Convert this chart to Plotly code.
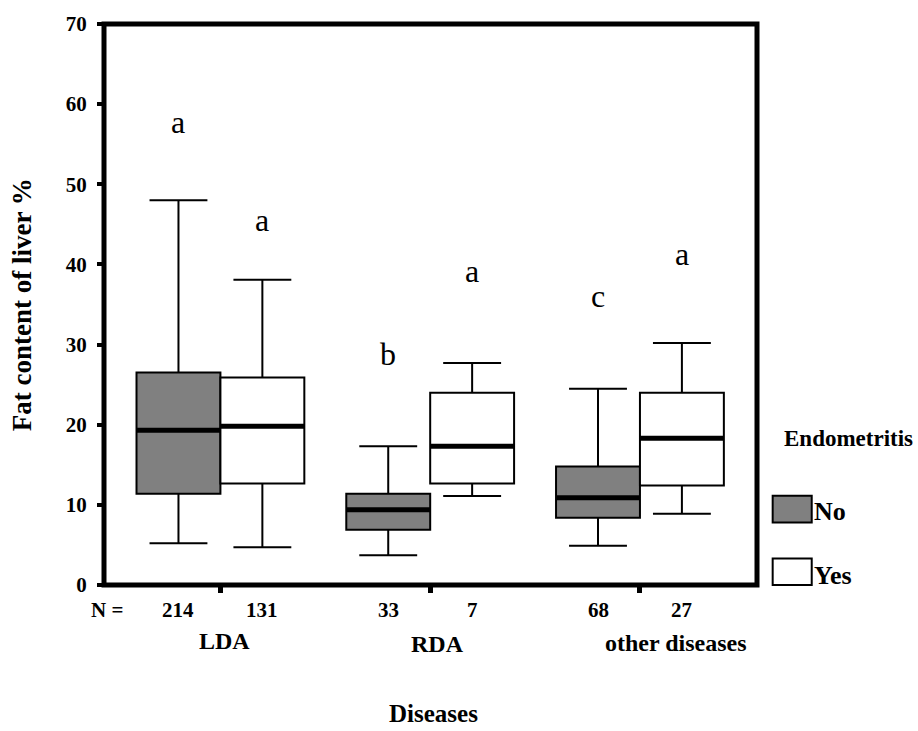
import plotly.graph_objects as go

# Liver fat content by disease group and endometritis status (box summaries)
groups = ["LDA", "RDA", "other diseases"]

no_lower = [5.2, 3.7, 4.9]
no_q1 = [11.4, 6.9, 8.4]
no_median = [19.3, 9.4, 10.9]
no_q3 = [26.5, 11.4, 14.8]
no_upper = [48.0, 17.3, 24.5]

yes_lower = [4.7, 11.1, 8.9]
yes_q1 = [12.65, 12.65, 12.4]
yes_median = [19.8, 17.3, 18.3]
yes_q3 = [25.9, 24.0, 24.0]
yes_upper = [38.1, 27.7, 30.2]

n_no = [214, 33, 68]
n_yes = [131, 7, 27]

letters_no = ["a", "b", "c"]
letters_yes = ["a", "a", "a"]
letter_y_no = [57.8, 28.8, 36.0]
letter_y_yes = [45.6, 39.2, 41.3]

y_ticks = [0, 10, 20, 30, 40, 50, 60, 70]

SERIF = "Liberation Serif, Times New Roman, serif"
BOX_W = 0.4
HALF = BOX_W / 2

idx = list(range(len(groups)))
x_no = [i - HALF for i in idx]
x_yes = [i + HALF for i in idx]

fig = go.Figure()


def add_box(xs, lower, q1, med, q3, upper, fill, name):
    fig.add_trace(go.Box(
        x=xs, q1=q1, median=med, q3=q3,
        lowerfence=lower, upperfence=upper,
        width=BOX_W, whiskerwidth=0.69,
        fillcolor=fill, line=dict(color="black", width=2),
        name=name, showlegend=False, boxpoints=False,
        hoverinfo="skip",
    ))
    # heavy median bar across the full box width
    mx, my = [], []
    for x, m in zip(xs, med):
        mx += [x - HALF, x + HALF, None]
        my += [m, m, None]
    fig.add_trace(go.Scatter(
        x=mx, y=my, mode="lines",
        line=dict(color="black", width=5),
        showlegend=False, hoverinfo="skip",
    ))


add_box(x_no, no_lower, no_q1, no_median, no_q3, no_upper, "#808080", "No")
add_box(x_yes, yes_lower, yes_q1, yes_median, yes_q3, yes_upper, "white", "Yes")

annotations = []

# significance letters above each box
for xs, labs, ys in ((x_no, letters_no, letter_y_no), (x_yes, letters_yes, letter_y_yes)):
    for x, t, y in zip(xs, labs, ys):
        annotations.append(dict(
            x=x, y=y, xref="x", yref="y", text=t, showarrow=False,
            font=dict(family=SERIF, size=32, color="black"),
            xanchor="center", yanchor="middle",
        ))

# sample sizes under each box
N_ROW = -0.0442
annotations.append(dict(
    x=0.0046, y=N_ROW, xref="paper", yref="paper", text="<b>N =</b>",
    showarrow=False, font=dict(family=SERIF, size=21, color="black"),
    xanchor="center", yanchor="middle",
))
for xs, ns in ((x_no, n_no), (x_yes, n_yes)):
    for x, n in zip(xs, ns):
        annotations.append(dict(
            x=x, y=N_ROW, xref="x", yref="paper", text=f"<b>{n}</b>",
            showarrow=False, font=dict(family=SERIF, size=21, color="black"),
            xanchor="center", yanchor="middle",
        ))

# group names
group_label_shift = [0.02, 0.037, 0.172]
group_label_y = [-0.1007, -0.106, -0.1025]
for i, g in enumerate(groups):
    annotations.append(dict(
        x=i + group_label_shift[i], y=group_label_y[i], xref="x", yref="paper",
        text=f"<b>{g}</b>", showarrow=False,
        font=dict(family=SERIF, size=24, color="black"),
        xanchor="center", yanchor="middle",
    ))

# axis titles
annotations.append(dict(
    x=0.505, y=-0.2297, xref="paper", yref="paper", text="<b>Diseases</b>",
    showarrow=False, font=dict(family=SERIF, size=25, color="black"),
    xanchor="center", yanchor="middle",
))
annotations.append(dict(
    x=-0.126, y=0.5, xref="paper", yref="paper",
    text="<b>Fat content of liver %</b>", textangle=-90,
    showarrow=False, font=dict(family=SERIF, size=27, color="black"),
    xanchor="center", yanchor="middle",
))

# legend
annotations.append(dict(
    x=1.0383, y=0.2615, xref="paper", yref="paper", text="<b>Endometritis</b>",
    showarrow=False, font=dict(family=SERIF, size=23, color="black"),
    xanchor="left", yanchor="middle",
))
legend_items = [("No", "#808080", 0.1113, 0.159, 0.131),
                ("Yes", "white", 0.0, 0.0472, 0.0168)]
shapes = [
    # heavy frame around the plotting area
    dict(type="rect", xref="paper", yref="paper", x0=0, x1=1, y0=0, y1=1,
         line=dict(color="black", width=5), layer="above"),
]
for label, fill, y0, y1, ty in legend_items:
    shapes.append(dict(
        type="rect", xref="paper", yref="paper",
        x0=1.024, x1=1.0838, y0=y0, y1=y1,
        fillcolor=fill, line=dict(color="black", width=2),
    ))
    annotations.append(dict(
        x=1.0845, y=ty, xref="paper", yref="paper", text=f"<b>{label}</b>",
        showarrow=False, font=dict(family=SERIF, size=26, color="black"),
        xanchor="left", yanchor="middle",
    ))

fig.update_layout(
    width=918, height=731,
    margin=dict(l=104, r=161, t=19, b=146),
    paper_bgcolor="white", plot_bgcolor="white",
    boxmode="overlay",
    showlegend=False,
    annotations=annotations,
    shapes=shapes,
    xaxis=dict(
        range=[-0.555, 2.558], tickvals=idx, ticktext=["" for _ in idx],
        ticks="outside", ticklen=7, tickwidth=5, tickcolor="black",
        showline=False, showgrid=False, zeroline=False, fixedrange=True,
    ),
    yaxis=dict(
        range=[0, 70], tickvals=y_ticks,
        ticktext=[f"<b>{v}</b>" for v in y_ticks],
        ticks="outside", ticklen=6, tickwidth=4, tickcolor="black",
        ticklabelstandoff=6,
        tickfont=dict(family=SERIF, size=21, color="black"),
        showline=False, showgrid=False, zeroline=False, fixedrange=True,
    ),
)

fig.write_html("out.html")
